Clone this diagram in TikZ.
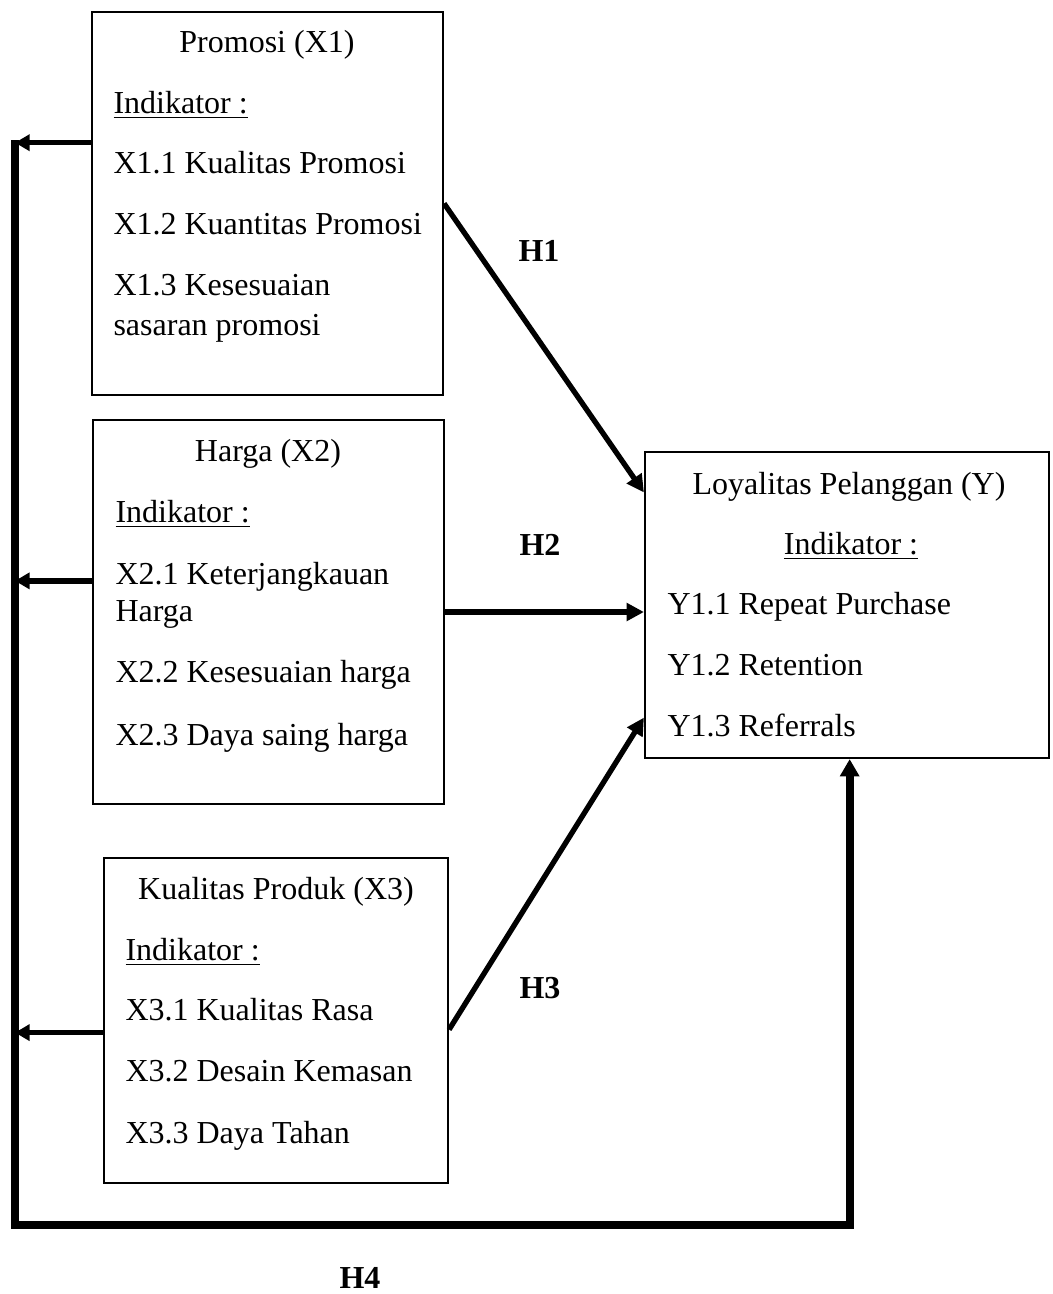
\documentclass[tikz,border=0pt]{standalone}
\usepackage{fontspec}
\setmainfont{Liberation Serif}
\usetikzlibrary{arrows.meta,fit}

\tikzset{
  box/.style={draw, line width=0.8pt, inner sep=0pt},
  item/.style={anchor=base west, inner sep=0pt, font=\fontsize{12}{14}\selectfont},
  judul/.style={anchor=base, inner sep=0pt, font=\fontsize{12}{14}\selectfont},
  hip/.style={inner sep=0pt, font=\fontsize{12}{14}\selectfont\bfseries},
  arr/.style={line width=2pt, -{Triangle[length=6.5pt,width=6.5pt]}},
  balik/.style={line width=2pt, -{Triangle[length=5.5pt,width=6pt]}},
}

\begin{document}
\begin{tikzpicture}[x=0.375pt,y=-0.375pt]
\useasboundingbox (0,0) rectangle (1052,1294);

% Promosi (X1)
\node[box, fit={(92,12) (443,395)}] (x1) {};
\node[judul] (x1t) at (267,52) {Promosi (X1)};
\foreach \yy/\txt [count=\i] in {113/\underline{Indikator :}, 173/X1.1 Kualitas Promosi,
    234/X1.2 Kuantitas Promosi, 295/X1.3 Kesesuaian, 335/sasaran promosi} {
  \node[item] (x1i\i) at (113,\yy) {\txt};
}

% Harga (X2)
\node[box, fit={(93,420) (444,804)}] (x2) {};
\node[judul] (x2t) at (268,461) {Harga (X2)};
\foreach \yy/\txt [count=\i] in {522/\underline{Indikator :}, 584/X2.1 Keterjangkauan,
    621/Harga, 682/X2.2 Kesesuaian harga, 745/X2.3 Daya saing harga} {
  \node[item] (x2i\i) at (115,\yy) {\txt};
}

% Kualitas Produk (X3)
\node[box, fit={(104,858) (448,1183)}] (x3) {};
\node[judul] (x3t) at (276,899) {Kualitas Produk (X3)};
\foreach \yy/\txt [count=\i] in {960/\underline{Indikator :}, 1020/X3.1 Kualitas Rasa,
    1081/X3.2 Desain Kemasan, 1143/X3.3 Daya Tahan} {
  \node[item] (x3i\i) at (125,\yy) {\txt};
}

% Loyalitas Pelanggan (Y)
\node[box, fit={(645,452) (1049,758)}] (y) {};
\node[judul] (yt) at (849,494) {Loyalitas Pelanggan (Y)};
\node[judul] (yk) at (851,554) {\underline{Indikator :}};
\foreach \yy/\txt [count=\i] in {614/Y1.1 Repeat Purchase, 675/Y1.2 Retention,
    736/Y1.3 Referrals} {
  \node[item] (yi\i) at (667,\yy) {\txt};
}

% hipotesis
\draw[arr] (x1.east) -- (y.151);
\draw[arr] (x2.east) -- (x2.east -| y.west);
\draw[arr] (x3.357) -- (y.209);
\node[hip] (h1) at (539,251) {H1};
\node[hip] (h2) at (540,545) {H2};
\node[hip] (h3) at (540,988) {H3};
\node[hip] (h4) at (360,1278) {H4};

% H4 (simultan)
\coordinate (trunk) at (15,140);
\coordinate (sudut) at (15,1225);
\draw[line width=3pt, line join=miter, -{Triangle[length=6.5pt,width=7pt]}]
  (trunk) -- (sudut) -| ([xshift=1pt]y.south);
\draw[balik] (x1.161) -- (x1.161 -| trunk);
\draw[balik] (x2.170) -- (x2.170 -| trunk);
\draw[balik] (x3.184) -- (x3.184 -| trunk);
\end{tikzpicture}
\end{document}
